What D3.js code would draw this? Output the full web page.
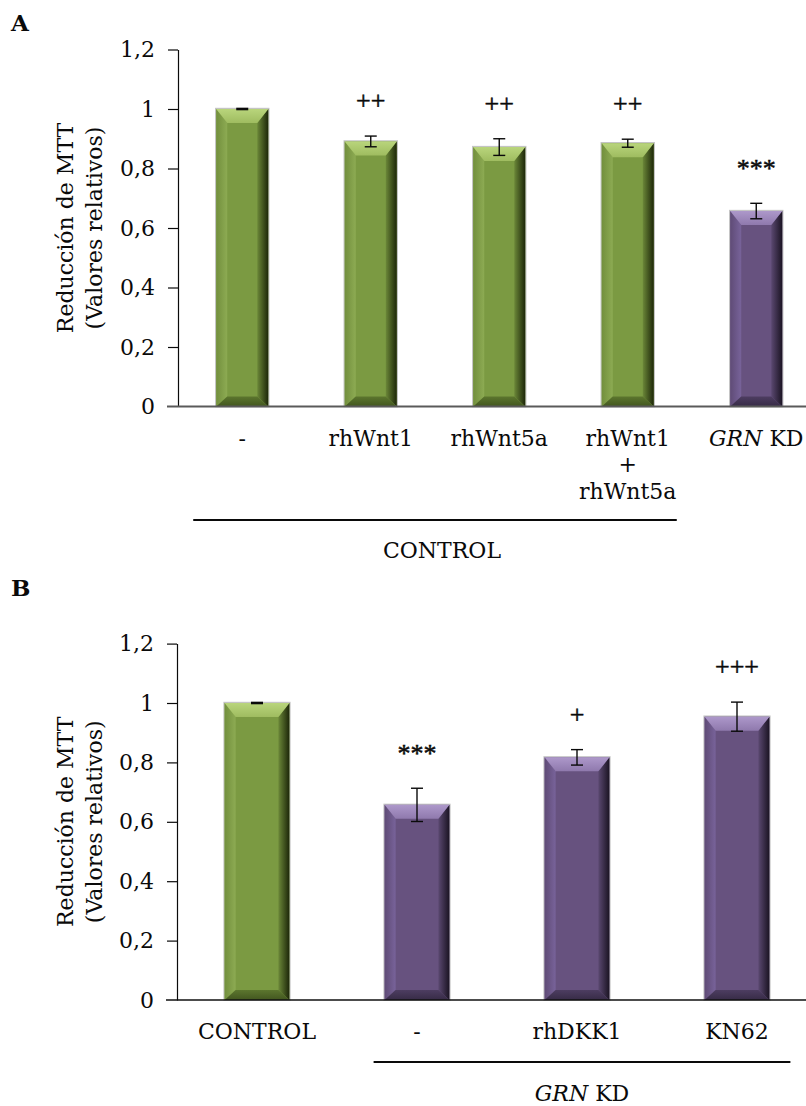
<!DOCTYPE html>
<html><head><meta charset="utf-8">
<script src="https://cdn.jsdelivr.net/npm/d3@7/dist/d3.min.js"></script>
<style>body{margin:0;background:#fff}svg{display:block}</style>
</head><body>
<script>
// ---- Data ----
const catsA = ["-", "rhWnt1", "rhWnt5a", "rhWnt1|+|rhWnt5a", "GRN KD"];
const valsA = [1, 0.891, 0.872, 0.885, 0.657];
const errA  = [0.002, 0.018, 0.028, 0.0135, 0.026];
const groupA = ["ctrl", "ctrl", "ctrl", "ctrl", "kd"];
const sigA = ["", "++", "++", "++", "***"];

const catsB = ["CONTROL", "-", "rhDKK1", "KN62"];
const valsB = [1, 0.657, 0.817, 0.954];
const errB  = [0.002, 0.056, 0.026, 0.049];
const groupB = ["ctrl", "kd", "kd", "kd"];
const sigB = ["", "***", "+", "+++"];

const tickVals = [0, 0.2, 0.4, 0.6, 0.8, 1, 1.2];
const tickLabels = ["0", "0,2", "0,4", "0,6", "0,8", "1", "1,2"];
const yTitle = ["Reducción de MTT", "(Valores relativos)"];

const W = 806, H = 1106;
const svg = d3.select("body").append("svg").attr("width", W).attr("height", H);
const FONT = "'DejaVu Serif', serif";
const SIGFONT = "'Liberation Serif', serif";
const INK = "#0a0a0a";

// gradients
const defs = svg.append("defs");
const palettes = {
  ctrl: {main:"#7b9a42", topA:"#b9d57c", topB:"#9fbc60", leftA:"#728f3d", leftB:"#8dab53", rightA:"#6b8738", rightB:"#1d2709", botA:"#5c762e", botB:"#42561f"},
  kd:   {main:"#67527f", topA:"#ad98ca", topB:"#8f79ad", leftA:"#5f4b76", leftB:"#78639a", rightA:"#5a4870", rightB:"#1b1423", botA:"#4d3d61", botB:"#372b46"}
};
function lg(id, a, b, horiz) {
  const g = defs.append("linearGradient").attr("id", id)
    .attr("x1", 0).attr("y1", 0).attr("x2", horiz ? 1 : 0).attr("y2", horiz ? 0 : 1);
  g.append("stop").attr("offset", "0%").attr("stop-color", a);
  g.append("stop").attr("offset", "100%").attr("stop-color", b);
}
Object.entries(palettes).forEach(([k, p]) => {
  lg(k + "-top", p.topA, p.topB, false);
  lg(k + "-left", p.leftA, p.leftB, true);
  lg(k + "-right", p.rightA, p.rightB, true);
  lg(k + "-bot", p.botA, p.botB, false);
});

function drawPanel(cfg) {
  const {cats, vals, errs, groups, sigs, x0, step, y0, y1, letter, letterY} = cfg;
  const g = svg.append("g");
  const x = d3.scaleBand().domain(cats).range([x0, x0 + step * cats.length])
    .paddingInner(0.595).paddingOuter(0.2975);
  const y = d3.scaleLinear().domain([0, 1.2]).range([y0, y1]);
  const bw = x.bandwidth();

  // y axis
  const ax = g.append("g").attr("transform", `translate(${x0},0)`)
    .call(d3.axisLeft(y).tickValues(tickVals).tickFormat((d, i) => tickLabels[i])
      .tickSize(10).tickSizeOuter(0).tickPadding(13));
  ax.select(".domain").attr("stroke", INK).attr("stroke-width", 1.2);
  ax.selectAll(".tick line").attr("stroke", INK).attr("stroke-width", 1.2);
  ax.selectAll(".tick text").attr("font-family", FONT).attr("font-size", 22).attr("fill", INK);
  ax.selectAll(".tick").filter(d => d === 0).select("line").remove();

  // y title
  const cy = (y0 + y1) / 2;
  yTitle.forEach((t, i) => {
    g.append("text").attr("transform", `translate(${73 + i * 29},${cy}) rotate(-90)`)
      .attr("text-anchor", "middle").attr("font-family", FONT).attr("font-size", 22)
      .attr("fill", INK).text(t);
  });

  // bars
  const bars = g.selectAll(".bar").data(cats).enter().append("g");
  bars.each(function(c, i) {
    const p = palettes[groups[i]], k = groups[i];
    const bx = x(c), by = y(vals[i]), bh = y(0) - y(vals[i]);
    const sel = d3.select(this);
    const t = 14, s = 11, bb = 10;
    sel.append("rect").attr("x", bx - 0.5).attr("y", by - 0.5).attr("width", bw + 1).attr("height", bh + 0.5)
      .attr("fill", "none").attr("stroke", "#c4c4c4").attr("stroke-width", 1.4);
    sel.append("rect").attr("x", bx).attr("y", by).attr("width", bw).attr("height", bh).attr("fill", p.main);
    const poly = (pts, fill) => sel.append("polygon").attr("points", pts.map(q => q.join(",")).join(" ")).attr("fill", fill);
    poly([[bx, by], [bx + s, by + t], [bx + s, by + bh - bb], [bx, by + bh]], `url(#${k}-left)`);
    poly([[bx + bw, by], [bx + bw - s, by + t], [bx + bw - s, by + bh - bb], [bx + bw, by + bh]], `url(#${k}-right)`);
    poly([[bx, by + bh], [bx + bw, by + bh], [bx + bw - s, by + bh - bb], [bx + s, by + bh - bb]], `url(#${k}-bot)`);
    poly([[bx, by], [bx + bw, by], [bx + bw - s, by + t], [bx + s, by + t]], `url(#${k}-top)`);

    // error bar
    const cx = bx + bw / 2, ya = y(vals[i] + errs[i]), yb = y(vals[i] - errs[i]);
    sel.append("line").attr("x1", cx).attr("x2", cx).attr("y1", ya).attr("y2", yb).attr("stroke", INK).attr("stroke-width", 1.4);
    [ya, yb].forEach(yy => sel.append("line").attr("x1", cx - 6).attr("x2", cx + 6).attr("y1", yy).attr("y2", yy)
      .attr("stroke", INK).attr("stroke-width", 1.4));

    // significance
    if (sigs[i]) {
      const isStar = sigs[i].includes("*");
      const centre = ya - (isStar ? 38 : 34);
      sel.append("text").attr("x", cx).attr("y", centre + (isStar ? 12 : 7))
        .attr("text-anchor", "middle").attr("font-family", SIGFONT).attr("font-size", 26)
        .attr("fill", INK).attr("stroke", INK).attr("stroke-width", 0.5).text(sigs[i]);
    }

    // category label
    const lines = c.split("|");
    const txt = sel.append("text").attr("x", cx).attr("text-anchor", "middle")
      .attr("font-family", FONT).attr("font-size", 22).attr("fill", INK);
    lines.forEach((ln, j) => {
      const ts = txt.append("tspan").attr("x", cx).attr("y", y0 + 39 + j * 26.5);
      if (ln === "GRN KD") {
        ts.append("tspan").attr("font-style", "italic").text("GRN");
        ts.append("tspan").text(" KD");
      } else ts.text(ln);
    });
  });

  // x baseline
  g.append("line").attr("x1", x0 - 11).attr("x2", W).attr("y1", y0).attr("y2", y0)
    .attr("stroke", cfg.baseColor).attr("stroke-width", cfg.baseW);

  // panel letter
  svg.append("text").attr("x", 11).attr("y", letterY).attr("font-family", FONT).attr("font-weight", "bold")
    .attr("font-size", 23).attr("fill", INK).text(letter);
  return {x, y, bw, g};
}

// Panel A
const A = drawPanel({cats: catsA, vals: valsA, errs: errA, groups: groupA, sigs: sigA,
  x0: 178, step: 128.5, y0: 406.5, y1: 49.5, letter: "A", letterY: 31, baseColor: "#5a5a5a", baseW: 2});
{
  const l1 = A.x(catsA[0]) - 23, l2 = A.x(catsA[3]) + A.bw + 23;
  A.g.append("line").attr("x1", l1).attr("x2", l2).attr("y1", 520).attr("y2", 520).attr("stroke", INK).attr("stroke-width", 2);
  A.g.append("text").attr("x", (l1 + l2) / 2 + 7).attr("y", 558).attr("text-anchor", "middle")
    .attr("font-family", FONT).attr("font-size", 22).attr("fill", INK).text("CONTROL");
}

// Panel B
const B = drawPanel({cats: catsB, vals: valsB, errs: errB, groups: groupB, sigs: sigB,
  x0: 177, step: 160, y0: 1000, y1: 643.6, letter: "B", letterY: 596, baseColor: "#111", baseW: 1.3});
{
  const l1 = B.x(catsB[1]) - 11, l2 = B.x(catsB[3]) + B.bw + 21;
  B.g.append("line").attr("x1", l1).attr("x2", l2).attr("y1", 1062).attr("y2", 1062).attr("stroke", INK).attr("stroke-width", 2);
  const t = B.g.append("text").attr("x", (l1 + l2) / 2).attr("y", 1101).attr("text-anchor", "middle")
    .attr("font-family", FONT).attr("font-size", 22).attr("fill", INK);
  t.append("tspan").attr("font-style", "italic").text("GRN");
  t.append("tspan").text(" KD");
}
</script>
</body></html>
